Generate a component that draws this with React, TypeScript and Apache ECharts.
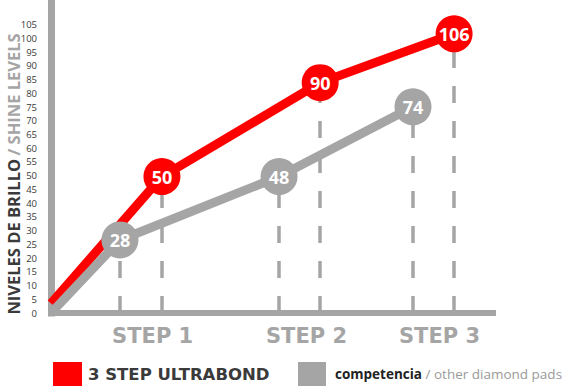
import React, { useEffect, useRef } from "react";
import * as echarts from "echarts";

// Step label positions along the (hidden-unit) horizontal axis
const stepLabels = ["STEP 1", "STEP 2", "STEP 3"];
const stepLabelPos = [23.0, 57.8, 87.9];

// 3 STEP ULTRABOND: horizontal position, plotted level, printed value
const ultraX = [0, 25.1, 60.9, 91.2];
const ultraLevel = [3.5, 49.7, 83.9, 101.7];
const ultraValues = [null, 50, 90, 106];

// competencia / other diamond pads
const compX = [0, 15.6, 51.6, 81.9];
const compLevel = [0, 26.6, 49.7, 75.1];
const compValues = [null, 28, 48, 74];

const yMaxLabel = 105;
const yInterval = 5;

const RED = "#ff0000";
const GRAY = "#a5a5a5";
const DARK = "#3a3a3a";

function buildData(xs: number[], ys: number[], vals: (number | null)[]) {
  return xs.map((x, i) =>
    vals[i] == null
      ? { value: [x, ys[i]], symbol: "none", label: { show: false } }
      : { value: [x, ys[i]] }
  );
}

function buildDrops(xs: number[], ys: number[], vals: (number | null)[]) {
  const out: any[] = [];
  xs.forEach((x, i) => {
    if (vals[i] == null) return;
    out.push([{ coord: [x, 0] }, { coord: [x, ys[i]] }]);
  });
  return out;
}

export default function App() {
  const ref = useRef<HTMLDivElement>(null);
  useEffect(() => {
    if (!ref.current) return;
    const chart = echarts.init(ref.current, null, { renderer: "svg" });
    const dropStyle = {
      color: GRAY,
      width: 3.5,
      type: [17, 18],
    };
    chart.setOption({
      animation: false,
      grid: { left: 51, right: 72, top: 0, bottom: 73, containLabel: false },
      xAxis: {
        type: "value",
        min: 0,
        max: 100,
        splitLine: { show: false },
        axisTick: { show: false },
        axisLine: {
          show: true,
          lineStyle: { color: GRAY, width: 6, cap: "square" },
        },
        axisLabel: {
          customValues: stepLabelPos,
          formatter: (v: number) => {
            const i = stepLabelPos.indexOf(v);
            return i >= 0 ? stepLabels[i] : "";
          },
          color: GRAY,
          fontFamily: "DejaVu Sans",
          fontWeight: "bold",
          fontSize: 21,
          margin: 23,
          verticalAlign: "middle",
        },
      },
      yAxis: {
        type: "value",
        min: 0,
        max: 114,
        interval: yInterval,
        splitLine: { show: false },
        axisTick: { show: false },
        axisLine: {
          show: true,
          lineStyle: { color: GRAY, width: 7, cap: "square" },
        },
        axisLabel: {
          formatter: (v: number) => (v <= yMaxLabel ? String(v) : ""),
          color: DARK,
          fontFamily: "Open Sans",
          fontSize: 9.5,
          margin: 14,
        },
      },
      legend: [
        {
          data: ["3 STEP ULTRABOND"],
          left: 48,
          top: 357,
          itemWidth: 29,
          itemHeight: 28,
          icon: "rect",
          selectedMode: false,
          formatter: "{a|3 STEP ULTRABOND}",
          textStyle: {
            fontFamily: "DejaVu Sans",
            fontWeight: "bold",
            fontSize: 16.5,
            color: DARK,
            rich: {
              a: {
                fontFamily: "DejaVu Sans",
                fontWeight: "bold",
                fontSize: 16.5,
                color: DARK,
                padding: [0, 0, 3, 1],
              },
            },
          },
        },
        {
          data: ["competencia / other diamond pads"],
          left: 293,
          top: 357,
          itemWidth: 28,
          itemHeight: 29,
          icon: "rect",
          selectedMode: false,
          formatter: "{b|competencia} {c|/ other diamond pads}",
          textStyle: {
            fontFamily: "Open Sans",
            fontSize: 13.5,
            rich: {
              b: {
                fontFamily: "Open Sans",
                fontWeight: "bold",
                fontSize: 13.5,
                color: "#222222",
                padding: [0, 0, 6, 4],
              },
              c: {
                fontFamily: "Open Sans",
                fontSize: 13.5,
                color: "#9a9a9a",
                padding: [0, 0, 6, 0],
              },
            },
          },
        },
      ],
      graphic: [
        {
          type: "text",
          x: 13,
          y: 174,
          rotation: Math.PI / 2,
          silent: true,
          style: {
            text: "{a|NIVELES DE BRILLO} {b|/ SHINE LEVELS}",
            align: "center",
            verticalAlign: "middle",
            rich: {
              a: {
                fontFamily: "Open Sans",
                fontWeight: "bold",
                fontSize: 16.5,
                fill: DARK,
              },
              b: {
                fontFamily: "Open Sans",
                fontWeight: "bold",
                fontSize: 16.5,
                fill: GRAY,
              },
            },
          },
        },
      ],
      series: [
        {
          name: "3 STEP ULTRABOND",
          type: "line",
          z: 3,
          data: buildData(ultraX, ultraLevel, ultraValues),
          symbol: "circle",
          symbolSize: 37,
          lineStyle: { color: RED, width: 9 },
          itemStyle: { color: RED },
          label: {
            show: true,
            position: "inside",
            formatter: (p: any) => String(ultraValues[p.dataIndex] ?? ""),
            color: "#ffffff",
            fontFamily: "Open Sans",
            fontWeight: "bold",
            fontSize: 18,
          },
          markLine: {
            silent: true,
            z: 1,
            symbol: ["none", "none"],
            label: { show: false },
            lineStyle: dropStyle,
            data: buildDrops(ultraX, ultraLevel, ultraValues),
          },
        },
        {
          name: "competencia / other diamond pads",
          type: "line",
          z: 4,
          data: buildData(compX, compLevel, compValues),
          symbol: "circle",
          symbolSize: 37,
          lineStyle: { color: GRAY, width: 9 },
          itemStyle: { color: GRAY },
          label: {
            show: true,
            position: "inside",
            formatter: (p: any) => String(compValues[p.dataIndex] ?? ""),
            color: "#ffffff",
            fontFamily: "Open Sans",
            fontWeight: "bold",
            fontSize: 18,
          },
          markLine: {
            silent: true,
            z: 1,
            symbol: ["none", "none"],
            label: { show: false },
            lineStyle: dropStyle,
            data: buildDrops(compX, compLevel, compValues),
          },
        },
      ],
    });
    return () => chart.dispose();
  }, []);
  return (
    <div
      ref={ref}
      style={{ position: "absolute", left: 0, top: 0, width: 565, height: 386 }}
    />
  );
}
